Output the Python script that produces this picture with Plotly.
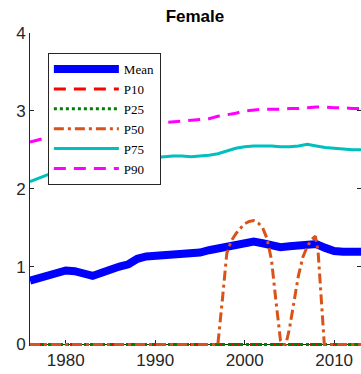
import plotly.graph_objects as go

years = list(range(1976, 2014))
mean = [0.82, 0.85, 0.88, 0.92, 0.95, 0.94, 0.90, 0.88, 0.92, 0.97,
        1.00, 1.03, 1.10, 1.13, 1.14, 1.15, 1.16, 1.15, 1.16, 1.18,
        1.21, 1.23, 1.26, 1.28, 1.30, 1.32, 1.30, 1.27, 1.25, 1.26,
        1.27, 1.29, 1.29, 1.24, 1.20, 1.19, 1.19, 1.19]
p10 = [0.0] * len(years)
p25 = [0.0] * len(years)
p75 = [2.09, 2.14, 2.18, 2.22, 2.24, 2.20, 2.15, 2.15, 2.20, 2.24,
       2.27, 2.30, 2.35, 2.39, 2.40, 2.41, 2.42, 2.42, 2.41, 2.42,
       2.43, 2.45, 2.49, 2.52, 2.54, 2.55, 2.55, 2.55, 2.54, 2.54,
       2.55, 2.57, 2.55, 2.53, 2.52, 2.51, 2.50, 2.50]
p90 = [2.60, 2.63, 2.66, 2.68, 2.70, 2.72, 2.72, 2.73, 2.75, 2.77,
       2.79, 2.80, 2.82, 2.83, 2.84, 2.85, 2.86, 2.87, 2.88, 2.89,
       2.90, 2.93, 2.95, 2.97, 3.00, 3.01, 3.02, 3.02, 3.02, 3.03,
       3.03, 3.04, 3.05, 3.05, 3.04, 3.04, 3.03, 3.03]

p50_years = [1976, 1980, 1985, 1990, 1995, 1997.0, 1997.5, 1998.0, 1998.5, 1999.0,
             1999.5, 2000.0, 2000.5, 2001.0, 2001.5, 2002.0, 2002.5, 2003.0,
             2003.5, 2004.0, 2004.3, 2004.6, 2005.0, 2005.5, 2006.0, 2006.5,
             2007.0, 2007.5, 2007.9, 2008.2, 2008.5, 2008.9, 2010, 2013]
p50 = [0, 0, 0, 0, 0, 0.0, 0.57, 1.17, 1.33, 1.42,
       1.49, 1.55, 1.58, 1.59, 1.56, 1.50, 1.36, 1.08,
       0.55, 0.05, 0.0, 0.0, 0.2, 0.57, 0.88, 1.12,
       1.26, 1.35, 1.39, 1.20, 0.74, 0.0, 0, 0]

x_ticks = [1980, 1990, 2000, 2010]
y_ticks = [0, 1, 2, 3, 4]
y_min, y_max = 0, 4
y_pad = 0.02  # room so the lines lying on zero are not cut by the plot area

fig = go.Figure()
fig.add_trace(go.Scatter(x=years, y=mean, name="Mean", mode="lines",
                         line=dict(color="#0000FF", width=8)))
fig.add_trace(go.Scatter(x=years, y=p10, name="P10", mode="lines",
                         line=dict(color="#FF0000", width=3, dash="12px,8px")))
fig.add_trace(go.Scatter(x=years, y=p25, name="P25", mode="lines",
                         line=dict(color="#008000", width=3, dash="3px,3px")))
fig.add_trace(go.Scatter(x=p50_years, y=p50, name="P50", mode="lines",
                         line=dict(color="#D95319", width=3, dash="10px,4px,3px,4px")))
fig.add_trace(go.Scatter(x=years, y=p75, name="P75", mode="lines",
                         line=dict(color="#00BFBF", width=3)))
fig.add_trace(go.Scatter(x=years, y=p90, name="P90", mode="lines",
                         line=dict(color="#FF00FF", width=3, dash="12px,8px")))

axis_col = "#262626"
fig.update_layout(
    width=361, height=374,
    margin=dict(l=30, r=0, t=33, b=28.45),
    paper_bgcolor="white", plot_bgcolor="white",
    title=dict(text="<b>Female</b>", x=0.54, xanchor="center", y=0.957, yanchor="middle",
               font=dict(family="Liberation Sans, Arial", size=17, color="black")),
    xaxis=dict(range=[1976, 2013], tickvals=x_ticks, ticks="inside", ticklen=4,
               anchor="free", position=y_pad / (y_max - y_min + y_pad),
               layer="below traces",
               showline=True, linecolor=axis_col, linewidth=1, mirror="ticks",
               showgrid=False, zeroline=False, tickcolor=axis_col,
               tickfont=dict(family="Liberation Sans, Arial", size=17, color=axis_col)),
    yaxis=dict(range=[y_min - y_pad, y_max], tickvals=y_ticks, ticks="inside", ticklen=4,
               layer="below traces",
               showline=True, linecolor=axis_col, linewidth=1, mirror="ticks",
               showgrid=False, zeroline=False, tickcolor=axis_col,
               tickfont=dict(family="Liberation Sans, Arial", size=17, color=axis_col)),
    legend=dict(x=0.054, y=0.936, xanchor="left", yanchor="top",
                bgcolor="white", bordercolor="#262626", borderwidth=1,
                itemwidth=65, tracegroupgap=0,
                font=dict(family="Liberation Serif, Times New Roman", size=13, color="black")),
    showlegend=True,
)
fig.write_html("out.html", config={"displayModeBar": False},
               post_script="document.body.style.margin='0';document.body.style.overflow='hidden';")
